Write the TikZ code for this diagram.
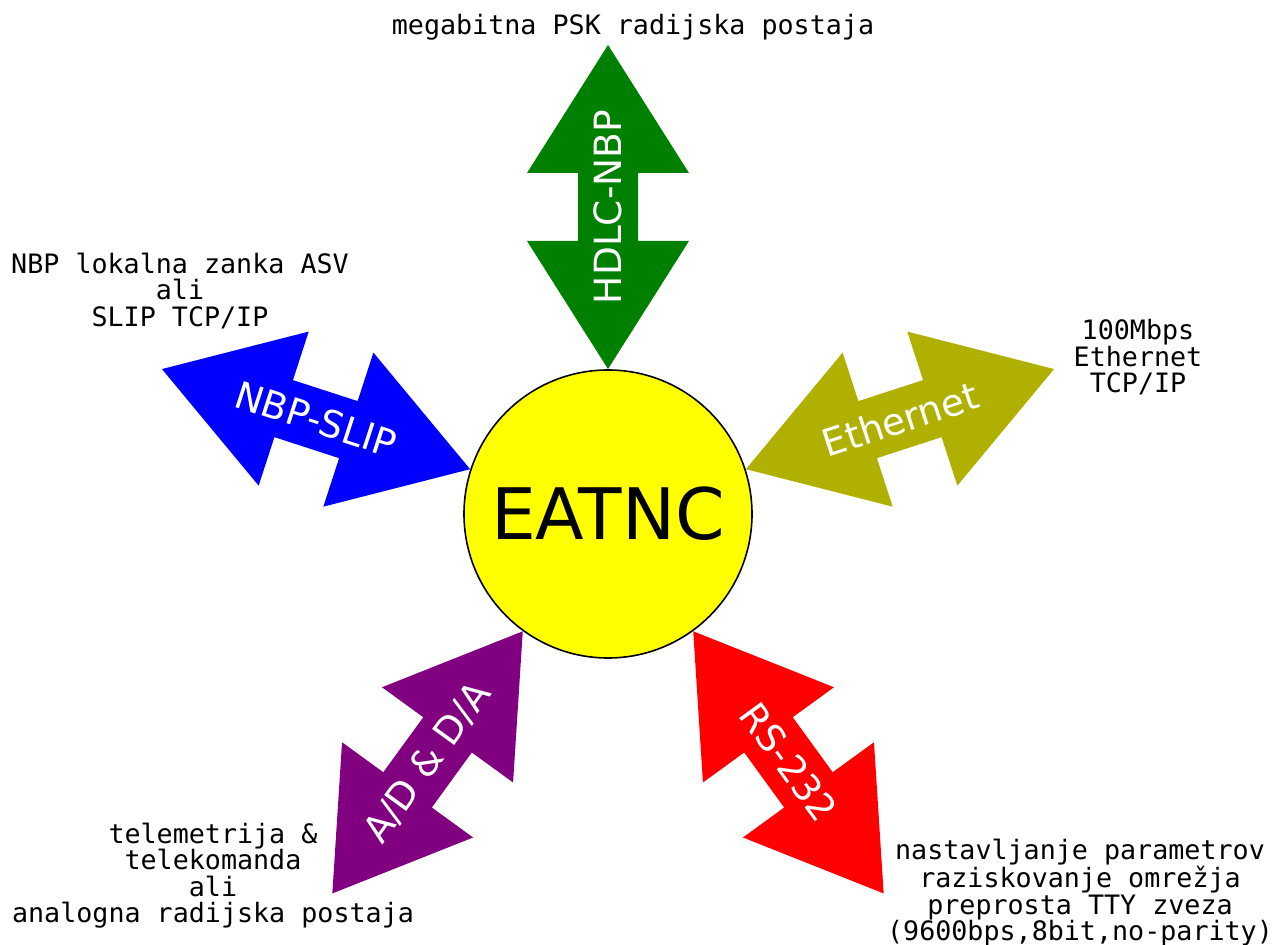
\documentclass[tikz,border=0pt]{standalone}
\usepackage{fontspec}
\setmainfont{DejaVu Sans}
\newfontfamily\capfont{DejaVu Sans Mono}
\usepackage{tikz}
\usetikzlibrary{positioning}

\definecolor{coreyellow}{RGB}{255,255,0}
\definecolor{hdlcgreen}{RGB}{0,128,0}
\definecolor{slipblue}{RGB}{0,0,255}
\definecolor{ethgreen}{RGB}{176,176,0}
\definecolor{adpurple}{RGB}{128,0,128}
\definecolor{rsred}{RGB}{255,0,0}

\begin{document}
\begin{tikzpicture}[x=1pt, y=1pt]
  \tikzstyle{caption}=[align=center, inner sep=0pt, font=\capfont\fontsize{26.7}{26.5}\selectfont]
  \tikzstyle{link}=[inner sep=0pt, text=white, font=\fontsize{37.5}{37.5}\selectfont]
  \useasboundingbox (0, 0) rectangle (1283, 945);

  % core
  \node (eatnc) at (608, 431) [circle, draw, line width=1.6pt, fill=coreyellow, minimum size=288pt, inner sep=0pt,
    font=\fontsize{71}{71}\selectfont] {EATNC};

  % double arrows round the core
  \foreach \ang/\col/\flip/\nm/\txt in {90/hdlcgreen/0/hdlc/HDLC-NBP, 162/slipblue/180/slip/NBP-SLIP,
    18/ethgreen/0/eth/Ethernet, 234/adpurple/180/adda/{A/D \& D/A}, 306/rsred/0/rs/RS-232} {
    \begin{scope}[shift={(eatnc.center)}, rotate=\ang]
      \fill[\col] (145, 0) -- (273, 81) -- (273, 30) -- (341, 30) -- (341, 81) -- (469, 0)
        -- (341, -81) -- (341, -30) -- (273, -30) -- (273, -81) -- cycle;
      \node (\nm) at (307, 0) [link, transform shape, rotate=\flip] {\txt};
    \end{scope}
  }

  % what sits at the far end
  \node (psk) at (633, 910) [caption, anchor=base] {megabitna PSK radijska postaja};
  \node (asv) at (180, 654) [caption] {NBP lokalna zanka ASV\\ali\\SLIP TCP/IP};
  \node (tcp) at (1138, 587.5) [caption] {100Mbps\\Ethernet\\TCP/IP};
  \node (tlm) at (213, 69.5) [caption] {telemetrija \&\\telekomanda\\ali\\analogna radijska postaja};
  \node (tty) at (1080, 52) [caption] {nastavljanje parametrov\\raziskovanje omrežja\\preprosta TTY zveza\\(9600bps,8bit,no-parity)};
\end{tikzpicture}
\end{document}
